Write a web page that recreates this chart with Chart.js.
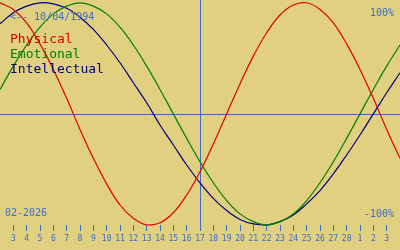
<!DOCTYPE html>
<html>
<head>
<meta charset="utf-8">
<script src="https://cdn.jsdelivr.net/npm/chart.js@4"></script>
<style>
html, body { margin: 0; padding: 0; background: #e0d080; }
canvas { display: block; }
</style>
</head>
<body>
<canvas id="bioChart" width="400" height="250"></canvas>
<script>
// slots across the window: 0 = 2 Feb ... 30 = 4 Mar
const dayLabels = ['', '3', '4', '5', '6', '7', '8', '9', '10', '11', '12', '13', '14', '15', '16',
    '17', '18', '19', '20', '21', '22', '23', '24', '25', '26', '27', '28', '1', '2', '3', ''];

const physical = [1.00, 0.94, 0.82, 0.63, 0.40, 0.14, -0.14, -0.40, -0.63, -0.82, -0.94,
    -1.00, -0.98, -0.89, -0.73, -0.52, -0.27, 0.00, 0.27, 0.52, 0.73, 0.89, 0.98, 1.00,
    0.94, 0.82, 0.63, 0.40, 0.14, -0.14, -0.40];
const emotional = [0.22, 0.43, 0.62, 0.78, 0.90, 0.97, 1.00, 0.97, 0.90, 0.78, 0.62,
    0.43, 0.22, 0.00, -0.22, -0.43, -0.62, -0.78, -0.90, -0.97, -1.00, -0.97, -0.90, -0.78,
    -0.62, -0.43, -0.22, 0.00, 0.22, 0.43, 0.62];
const intellectual = [0.81, 0.91, 0.97, 1.00, 0.99, 0.95, 0.87, 0.76, 0.62, 0.46, 0.28,
    0.10, -0.10, -0.28, -0.46, -0.62, -0.76, -0.87, -0.95, -0.99, -1.00, -0.97, -0.91, -0.81,
    -0.69, -0.54, -0.37, -0.19, 0.00, 0.19, 0.37];

const todayIndex = 15;
const seriesNames = ['Physical', 'Emotional', 'Intellectual'];
const seriesColors = ['#e00000', '#008000', '#000080'];
const birthText = '<-- 10/04/1994';
const monthText = '02-2026';
const topText = '100%';
const bottomText = '-100%';

const axisBlue = '#3a6cc8';
const mono = '"DejaVu Sans Mono", monospace';

function toPoints(arr) {
    return arr.map(function (v, i) { return { x: i, y: v }; });
}

const bioPlugin = {
    id: 'bioPlugin',
    beforeDraw: function (chart) {
        const c = chart.ctx;
        c.save();
        c.fillStyle = '#e0d080';
        c.fillRect(0, 0, chart.width, chart.height);
        c.restore();
    },
    beforeDatasetsDraw: function (chart) {
        const c = chart.ctx;
        const area = chart.chartArea;
        const y0 = Math.round(chart.scales.y.getPixelForValue(0)) + 0.5;
        c.save();
        c.strokeStyle = '#4068a8';
        c.lineWidth = 1;
        c.beginPath();
        c.moveTo(area.left, y0);
        c.lineTo(area.right, y0);
        c.stroke();
        c.restore();
    },
    afterDraw: function (chart) {
        const c = chart.ctx;
        c.save();
        c.textBaseline = 'alphabetic';
        c.font = '10px ' + mono;
        c.fillStyle = axisBlue;
        c.textAlign = 'left';
        c.fillText(birthText, 10, 20);
        c.fillText(monthText, 5, 216);
        c.textAlign = 'right';
        c.fillText(topText, 394, 16);
        c.fillText(bottomText, 394, 217);
        c.textAlign = 'left';
        c.font = '13px ' + mono;
        seriesNames.forEach(function (name, i) {
            c.fillStyle = seriesColors[i];
            c.fillText(name, 10, 43 + i * 15);
        });
        c.restore();
    }
};

function buildBioChart() {
    let ctx = document.getElementById('bioChart');
    const bioChart = new Chart(ctx, {
        type: 'line',
        data: {
            datasets: [physical, emotional, intellectual].map(function (arr, i) {
                return {
                    label: seriesNames[i],
                    data: toPoints(arr),
                    borderColor: seriesColors[i],
                    borderWidth: 1.2,
                    pointRadius: 0,
                    tension: 0.4,
                    fill: false,
                    clip: 4
                };
            })
        },
        options: {
            responsive: false,
            animation: false,
            devicePixelRatio: 1,
            layout: { padding: { top: 0, left: 0, right: 0, bottom: 3.4 } },
            plugins: {
                legend: { display: false },
                tooltip: { enabled: false }
            },
            scales: {
                x: {
                    type: 'linear',
                    min: 0,
                    max: dayLabels.length - 1,
                    afterBuildTicks: function (scale) {
                        scale.ticks = [];
                        for (let i = 0; i < dayLabels.length; i++) {
                            if (dayLabels[i] !== '') scale.ticks.push({ value: i });
                        }
                    },
                    ticks: {
                        autoSkip: false,
                        maxRotation: 0,
                        padding: 3,
                        color: axisBlue,
                        font: { family: mono, size: 8 },
                        callback: function (value) { return dayLabels[value]; }
                    },
                    grid: {
                        drawOnChartArea: true,
                        tickLength: 6,
                        tickColor: axisBlue,
                        color: function (c) {
                            return c.tick && c.tick.value === todayIndex ? axisBlue : 'rgba(0,0,0,0)';
                        }
                    },
                    border: { display: false }
                },
                y: {
                    display: false,
                    min: -1.0,
                    max: 1.025
                }
            }
        },
        plugins: [bioPlugin]
    });
}

buildBioChart();
</script>
</body>
</html>
